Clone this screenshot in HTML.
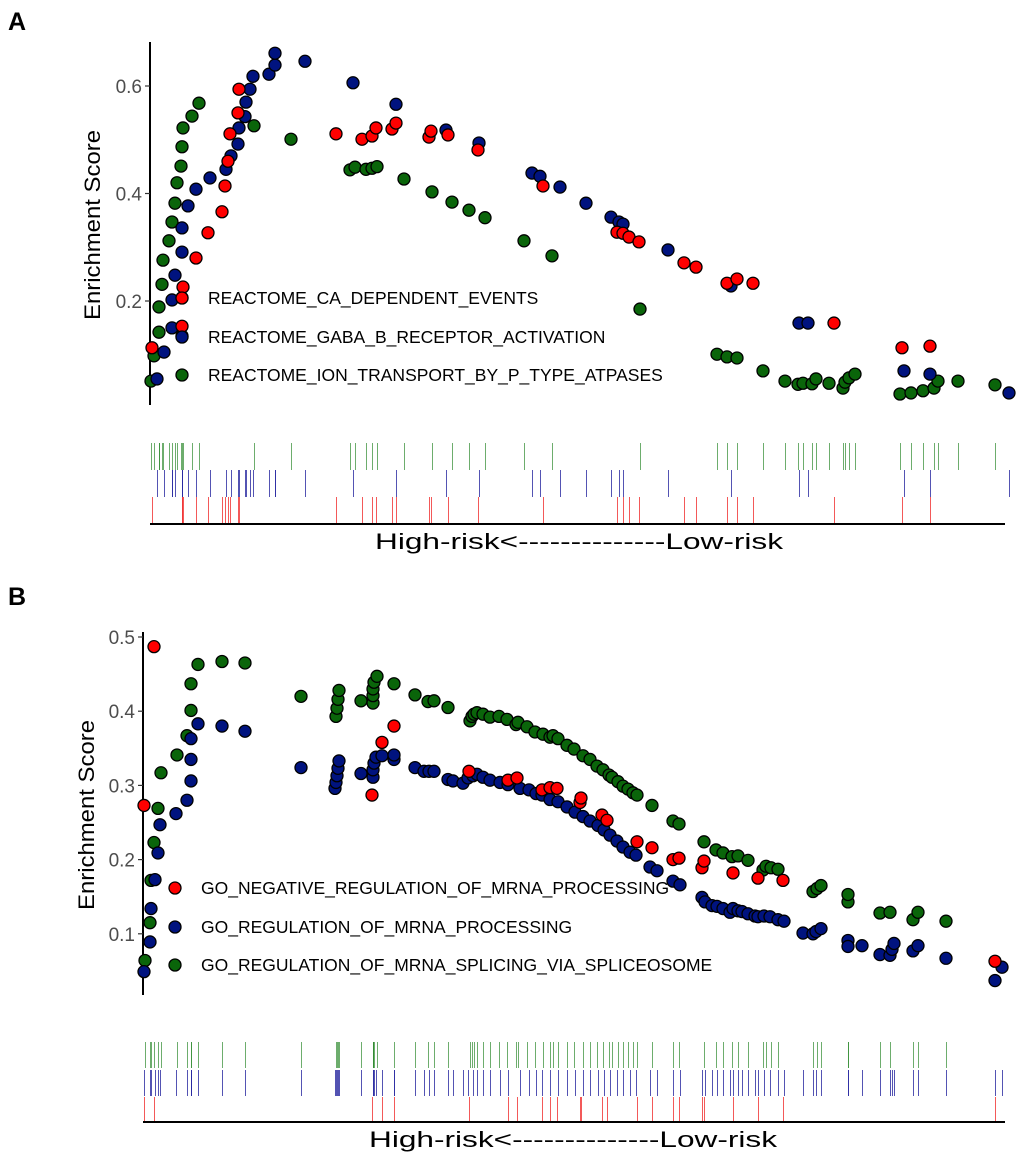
<!DOCTYPE html>
<html><head><meta charset="utf-8">
<style>
body{margin:0;background:#fff;}
svg{display:block;font-family:"Liberation Sans",Arial,sans-serif;}
</style></head>
<body>
<svg id="chart" width="1020" height="1157" viewBox="0 0 1020 1157" xmlns="http://www.w3.org/2000/svg">
<text x="8" y="30" font-size="25" font-weight="bold">A</text>
<text x="8" y="605" font-size="25" font-weight="bold">B</text>
<g id="pa"></g>
<g id="pb"></g>
</svg>
<script>
// ---- Panel A data ----
const aTicks = [0.2, 0.4, 0.6];
const aNames = ["REACTOME_CA_DEPENDENT_EVENTS","REACTOME_GABA_B_RECEPTOR_ACTIVATION","REACTOME_ION_TRANSPORT_BY_P_TYPE_ATPASES"];
const aRedRank = [2,32,32,33,46,58,72,75,78,80,88,89,186,212,222,226,242,246,279,281,298,328,393,467,473,479,489,534,546,577,587,603,684,752,780];
const aRedES = [0.113,0.153,0.206,0.226,0.280,0.327,0.366,0.414,0.460,0.511,0.550,0.594,0.511,0.501,0.507,0.522,0.520,0.531,0.505,0.516,0.509,0.481,0.414,0.328,0.326,0.319,0.310,0.271,0.263,0.233,0.241,0.233,0.159,0.113,0.116];
const aBlueRank = [7,14,22,32,22,25,32,32,38,46,60,76,81,88,89,95,96,100,103,119,125,125,155,203,246,296,329,382,390,410,436,461,469,473,518,581,649,658,754,780,859];
const aBlueES = [0.055,0.105,0.150,0.135,0.202,0.248,0.291,0.336,0.377,0.408,0.429,0.445,0.470,0.492,0.522,0.543,0.570,0.594,0.618,0.622,0.639,0.661,0.646,0.606,0.566,0.518,0.494,0.438,0.432,0.412,0.382,0.356,0.347,0.343,0.295,0.228,0.159,0.159,0.070,0.064,0.029];
const aGreenRank = [1,4,9,9,12,13,19,22,25,27,31,32,33,42,49,104,141,200,205,216,222,227,254,282,302,319,335,374,402,490,567,577,587,613,635,648,653,662,666,679,693,695,699,705,750,761,773,784,788,808,845];
const aGreenES = [0.051,0.098,0.142,0.189,0.231,0.276,0.312,0.347,0.382,0.420,0.451,0.487,0.522,0.544,0.568,0.526,0.501,0.444,0.449,0.445,0.447,0.450,0.427,0.403,0.384,0.369,0.355,0.312,0.284,0.185,0.101,0.096,0.094,0.070,0.051,0.045,0.047,0.046,0.055,0.047,0.038,0.049,0.057,0.064,0.027,0.029,0.033,0.038,0.051,0.051,0.044];

// ---- Panel B data ----
const bTicks = [0.1, 0.2, 0.3, 0.4, 0.5];
const bNames = ["GO_NEGATIVE_REGULATION_OF_MRNA_PROCESSING","GO_REGULATION_OF_MRNA_PROCESSING","GO_REGULATION_OF_MRNA_SPLICING_VIA_SPLICEOSOME"];
const bRedRank = [11,1,239,251,229,326,365,374,399,407,414,437,438,459,464,494,509,530,536,559,561,590,615,640,852];
const bRedES = [0.487,0.273,0.358,0.380,0.287,0.319,0.307,0.310,0.294,0.297,0.296,0.277,0.283,0.260,0.253,0.224,0.216,0.200,0.202,0.189,0.198,0.182,0.175,0.172,0.063];
const bBlueRank = [1,7,8,12,15,17,33,44,48,48,48,55,79,102,158,192,193,194,195,196,218,230,230,231,233,239,251,251,272,281,286,291,305,310,
 320,325,330,334,340,347,357,365,377,386,393,399,407,415,424,432,440,447,455,461,467,474,480,487,493,507,514,530,537,559,
 562,569,574,580,587,590,595,599,605,612,615,621,627,635,641,660,670,673,678,705,705,719,737,747,749,751,770,775,803,852,859];
const bBlueES = [0.049,0.089,0.134,0.173,0.209,0.247,0.262,0.280,0.306,0.335,0.363,0.383,0.380,0.373,0.324,0.296,0.304,0.313,0.323,0.333,0.316,0.311,0.321,0.330,0.338,0.340,0.335,0.341,0.324,0.319,0.319,0.319,0.308,0.306,
 0.303,0.310,0.313,0.315,0.311,0.307,0.304,0.301,0.296,0.294,0.289,0.287,0.281,0.278,0.271,0.264,0.258,0.252,0.246,0.240,0.233,0.225,0.217,0.210,0.206,0.190,0.185,0.171,0.166,0.149,
 0.143,0.138,0.137,0.134,0.129,0.134,0.131,0.130,0.127,0.124,0.123,0.124,0.123,0.119,0.117,0.101,0.100,0.103,0.107,0.091,0.083,0.084,0.072,0.071,0.079,0.087,0.077,0.084,0.067,0.037,0.055];
const bGreenRank = [2,7,8,11,15,18,34,44,48,48,55,79,102,158,193,194,195,196,218,230,230,230,231,234,251,272,285,291,305,
 327,329,331,334,340,347,356,364,373,375,384,392,400,407,410,415,424,431,440,447,454,460,466,469,475,480,485,490,494,509,530,536,561,
 573,580,589,595,605,620,623,628,635,670,674,678,705,705,737,747,770,775,803];
const bGreenES = [0.064,0.115,0.172,0.223,0.269,0.317,0.341,0.367,0.401,0.437,0.463,0.467,0.465,0.420,0.393,0.404,0.416,0.428,0.414,0.411,0.421,0.430,0.439,0.447,0.437,0.422,0.413,0.414,0.405,
 0.387,0.393,0.396,0.398,0.396,0.392,0.393,0.389,0.382,0.385,0.379,0.372,0.369,0.365,0.367,0.363,0.354,0.349,0.340,0.335,0.326,0.321,0.314,0.311,0.305,0.299,0.295,0.290,0.287,0.273,0.252,0.248,0.224,
 0.213,0.209,0.204,0.205,0.199,0.186,0.191,0.189,0.187,0.157,0.161,0.165,0.143,0.153,0.128,0.129,0.119,0.129,0.117];

const NS = "http://www.w3.org/2000/svg";
function mk(parent, tag, attrs, text){
  const e = document.createElementNS(NS, tag);
  for (const k in attrs) e.setAttribute(k, attrs[k]);
  if (text !== undefined) e.textContent = text;
  parent.appendChild(e);
  return e;
}

function panel(g, cfg){
  const xS = r => cfg.x0 + r;
  const yS = v => cfg.yRef + (cfg.vRef - v) * cfg.pxPer;
  let ax = mk(g, "line", {x1:cfg.x0, x2:cfg.x0, y1:cfg.yTop, y2:cfg.yBot, stroke:"#000", "stroke-width":2});
  
  
  cfg.ticks.forEach(t => {
    const y = yS(t);
    let tk = mk(g, "line", {x1:cfg.x0-5, x2:cfg.x0, y1:y, y2:y, stroke:"#333", "stroke-width":1.2});
    
    
    let tl = mk(g, "text", {x:cfg.x0-8, y:y+7, "text-anchor":"end", "font-size":19, fill:"#4d4d4d"}, t.toFixed(1));
    
    
  });
  let yt = mk(g, "text", {x:0, y:0, "text-anchor":"middle", "font-size":22, fill:"#000",
    textLength:190, lengthAdjust:"spacingAndGlyphs",
    transform:`translate(${cfg.titleX},${cfg.titleY}) rotate(-90)`}, "Enrichment Score");
  
  
  const rugColors = ["#f03030","#2828a0","#2f8a2f"];
  const rugOp = [0.8, 0.8, 0.7];
  const rows = [cfg.redRank, cfg.blueRank, cfg.greenRank];
  const rowNames = ['rug-red','rug-blue','rug-green'];
  rows.forEach((arr, i) => {
    const top = cfg.rugTop[i], bot = cfg.rugTop[i] + cfg.rugH;
    arr.forEach(r => {
      let l = mk(g, "line", {x1:xS(r)+0.5, x2:xS(r)+0.5, y1:top, y2:bot, stroke:rugColors[i], "stroke-width":1, "stroke-opacity":rugOp[i]});
      
      
    });
  });
  let xa = mk(g, "line", {x1:cfg.x0, x2:1005, y1:cfg.xAxisY, y2:cfg.xAxisY, stroke:"#000", "stroke-width":2});
  
  
  let xt = mk(g, "text", {x:cfg.xTitleX, y:cfg.xAxisY+25, "text-anchor":"middle", "font-size":22, fill:"#000",
    textLength:408, lengthAdjust:"spacingAndGlyphs"}, "High-risk<--------------Low-risk");
  
  
  const series = [
    [cfg.greenRank, cfg.greenES, "#0a650a", "point-green"],
    [cfg.blueRank, cfg.blueES, "#00137f", "point-blue"],
    [cfg.redRank, cfg.redES, "#ff0000", "point-red"]
  ];
  series.forEach(s => {
    s[0].forEach((r, i) => {
      let c = mk(g, "circle", {cx:xS(r), cy:yS(s[1][i]), r:6, fill:s[2], stroke:"#000", "stroke-width":1.3});
      
      
    });
  });
  const lc = ["#ff0000","#00137f","#0a650a"];
  cfg.names.forEach((n, i) => {
    const y = cfg.legY[i];
    let d = mk(g, "circle", {cx:cfg.legX, cy:y, r:6, fill:lc[i], stroke:"#000", "stroke-width":1.3});
    
    
    let t = mk(g, "text", {x:cfg.legX+26, y:y+6, "font-size":17.5, fill:"#000"}, n);
    
    
  });
}

panel(document.getElementById('pa'), {
  x0:150, yTop:42, yBot:405, yRef:86, vRef:0.6, pxPer:537.5, ticks:aTicks,
  titleX:100, titleY:225, rugTop:[497,470,443], rugH:27, xAxisY:524, xTitleX:579,
  redRank:aRedRank, redES:aRedES, blueRank:aBlueRank, blueES:aBlueES, greenRank:aGreenRank, greenES:aGreenES,
  names:aNames, legX:182, legY:[298,337,375]
});
panel(document.getElementById('pb'), {
  x0:143, yTop:632, yBot:995, yRef:637, vRef:0.5, pxPer:742, ticks:bTicks,
  titleX:94, titleY:815, rugTop:[1097,1070,1042], rugH:26, xAxisY:1122, xTitleX:573,
  redRank:bRedRank, redES:bRedES, blueRank:bBlueRank, blueES:bBlueES, greenRank:bGreenRank, greenES:bGreenES,
  names:bNames, legX:175, legY:[888,927,965]
});
</script>
</body></html>
